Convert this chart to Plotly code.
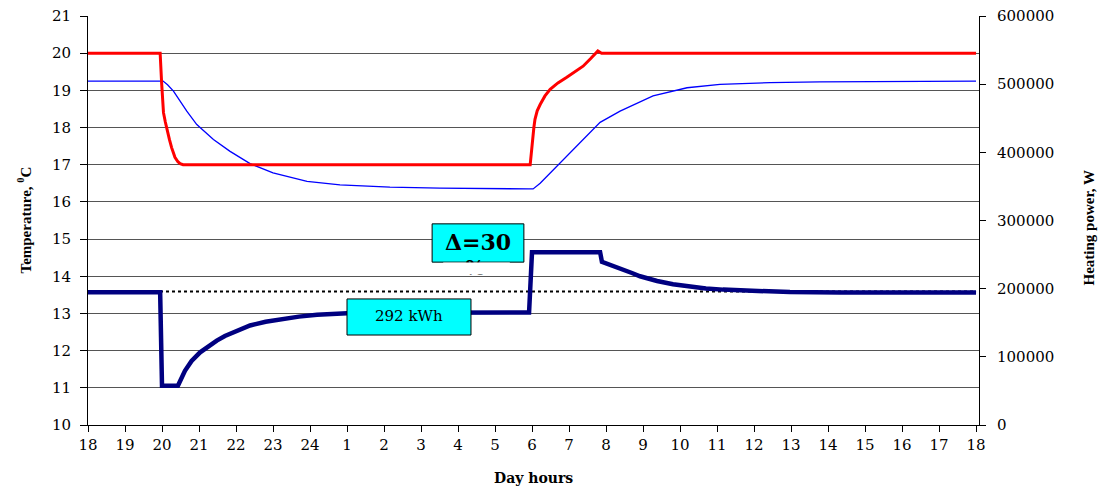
import plotly.graph_objects as go

# Hour axis: 18:00 of day one through 18:00 of the next day
hour_ticks = list(range(18, 43))
hour_labels = [str(h if h <= 24 else h - 24) for h in hour_ticks]

# Set-point temperature, deg C
setpoint_t = [18.0, 19.95, 19.99, 20.04, 20.09, 20.13, 20.2, 20.26, 20.35, 20.43, 20.49, 20.57,
              29.95, 29.98, 30.01, 30.05, 30.08, 30.14, 30.22, 30.35, 30.49, 30.7, 30.94,
              31.15, 31.38, 31.58, 31.78, 31.88, 42.0]
setpoint_temp = [20.0, 20.0, 19.2, 18.4, 18.15, 17.95, 17.68, 17.46, 17.2, 17.08, 17.03, 17.0,
                 17.0, 17.3, 17.68, 18.0, 18.22, 18.45, 18.62, 18.85, 19.03, 19.2, 19.35,
                 19.5, 19.65, 19.85, 20.06, 20.0, 20.0]

# Room air temperature, deg C
room_t = [18.0, 20.03, 20.15, 20.31, 20.67, 20.94, 21.39, 21.84, 22.38, 23.0, 23.92, 24.81,
          26.16, 27.51, 29.9, 30.03, 30.22, 30.76, 31.30, 31.84, 32.38, 33.27, 34.19, 35.08,
          36.43, 37.78, 42.0]
room_temp = [19.25, 19.25, 19.15, 18.98, 18.44, 18.08, 17.68, 17.36, 17.03, 16.78, 16.55,
             16.46, 16.40, 16.37, 16.35, 16.35, 16.5, 17.05, 17.6, 18.14, 18.44, 18.85,
             19.07, 19.16, 19.21, 19.23, 19.25]

# Heating power, W
power_t = [18.0, 19.95, 20.0, 20.43, 20.62, 20.8, 21.03, 21.25, 21.48, 21.7, 21.92, 22.38,
           22.8, 23.27, 23.7, 24.19, 25.0, 26.43, 29.92, 30.0, 31.84, 31.89, 32.2, 32.46,
           32.7, 32.92, 33.15, 33.38, 33.81, 34.27, 34.7, 35.16, 36.08, 36.97, 38.32, 42.0]
power_w = [194600, 194600, 57500, 57500, 79600, 94000, 106600, 116000, 123800, 130500,
           136000, 146000, 151500, 156000, 159000, 161700, 164000, 164800, 165000, 253600,
           253600, 239300, 233500, 228500, 223000, 218200, 214500, 211300, 206400, 202400,
           200300, 198600, 196500, 195000, 194400, 194400]

# Constant-power reference level, W
avg_t = [18.0, 42.0]
avg_w = [196000, 196000]

energy_label = "292 kWh"
saving_label = "Δ=30"
saving_unit = "%"

serif = "DejaVu Serif"
title_font = dict(family="Liberation Serif", size=15, color="black")

fig = go.Figure()
fig.add_trace(go.Scatter(x=avg_t, y=avg_w, yaxis="y2", mode="lines",
                         line=dict(color="black", width=2, dash="dot"), showlegend=False))
fig.add_trace(go.Scatter(x=power_t, y=power_w, yaxis="y2", mode="lines",
                         line=dict(color="#000080", width=4.5), showlegend=False))
fig.add_trace(go.Scatter(x=room_t, y=room_temp, mode="lines",
                         line=dict(color="#0000FF", width=1.3), showlegend=False))
fig.add_trace(go.Scatter(x=setpoint_t, y=setpoint_temp, mode="lines",
                         line=dict(color="#FF0000", width=3), showlegend=False))
# Unit of the saving callout; its lower half is hidden below the callout box
fig.add_trace(go.Scatter(x=[28.46], y=[14.18], mode="text", text=["<b>" + saving_unit + "</b>"],
                         textposition="middle center",
                         textfont=dict(family=serif, size=20, color="black"),
                         showlegend=False, hoverinfo="skip"))

# Callout boxes
fig.add_shape(type="rect", xref="x", yref="y", x0=27.30, x1=29.78, y0=14.38, y1=15.41,
              fillcolor="#00FFFF", line=dict(color="black", width=1), layer="between")
fig.add_shape(type="rect", xref="x", yref="y", x0=27.6, x1=29.4, y0=14.05, y1=14.368,
              fillcolor="white", line=dict(width=0), layer="above")
fig.add_shape(type="rect", xref="x", yref="y", x0=25.0, x1=28.35, y0=12.42, y1=13.39,
              fillcolor="#00FFFF", line=dict(color="black", width=1), layer="above")

annotations = [
    dict(text="<b>Day hours</b>", xref="paper", yref="paper", x=0.5, y=0, yshift=-53,
         xanchor="center", yanchor="middle", showarrow=False,
         font=dict(family=serif, size=14, color="black")),
    dict(text="<b>Temperature, <sup>0</sup>C</b>", xref="paper", yref="paper", x=0, y=0.5,
         xshift=-64, textangle=-90, xanchor="center", yanchor="middle", showarrow=False,
         font=title_font),
    dict(text="<b>Heating power, W</b>", xref="paper", yref="paper", x=1, y=0.5,
         xshift=109, yshift=-8, textangle=-90, xanchor="center", yanchor="middle",
         showarrow=False, font=title_font),
    dict(text="<b>" + saving_label + "</b>", xref="x", yref="y", x=28.54, y=14.92,
         xanchor="center", yanchor="middle", showarrow=False,
         font=dict(family=serif, size=22, color="black")),
    dict(text=energy_label, xref="x", yref="y", x=26.67, y=12.93,
         xanchor="center", yanchor="middle", showarrow=False,
         font=dict(family=serif, size=15, color="black")),
]

fig.update_layout(
    width=1099, height=486,
    margin=dict(l=88, r=120, t=16, b=61),
    paper_bgcolor="white", plot_bgcolor="white",
    showlegend=False,
    font=dict(family=serif, size=15, color="black"),
    xaxis=dict(range=[18, 42.08], tickmode="array", tickvals=hour_ticks, ticktext=hour_labels,
               ticks="outside", ticklen=6, tickcolor="black", showline=True, linecolor="black",
               linewidth=1, showgrid=False, zeroline=False, automargin=False,
               tickfont=dict(family=serif, size=15)),
    yaxis=dict(range=[10, 21], dtick=1, tick0=10, ticks="outside", ticklen=7, tickcolor="black",
               showline=True, linecolor="black", linewidth=1, showgrid=True,
               gridcolor="#555555", gridwidth=1, zeroline=False, ticklabelstandoff=6,
               automargin=False, tickfont=dict(family=serif, size=15)),
    yaxis2=dict(range=[0, 600000], dtick=100000, tick0=0, overlaying="y", side="right",
                ticks="outside", ticklen=6, tickcolor="black", showline=True,
                linecolor="black", linewidth=1, showgrid=False, zeroline=False,
                tickformat="d", ticklabelstandoff=8, automargin=False,
                tickfont=dict(family=serif, size=15)),
    annotations=annotations,
)

fig.write_html("out.html")
